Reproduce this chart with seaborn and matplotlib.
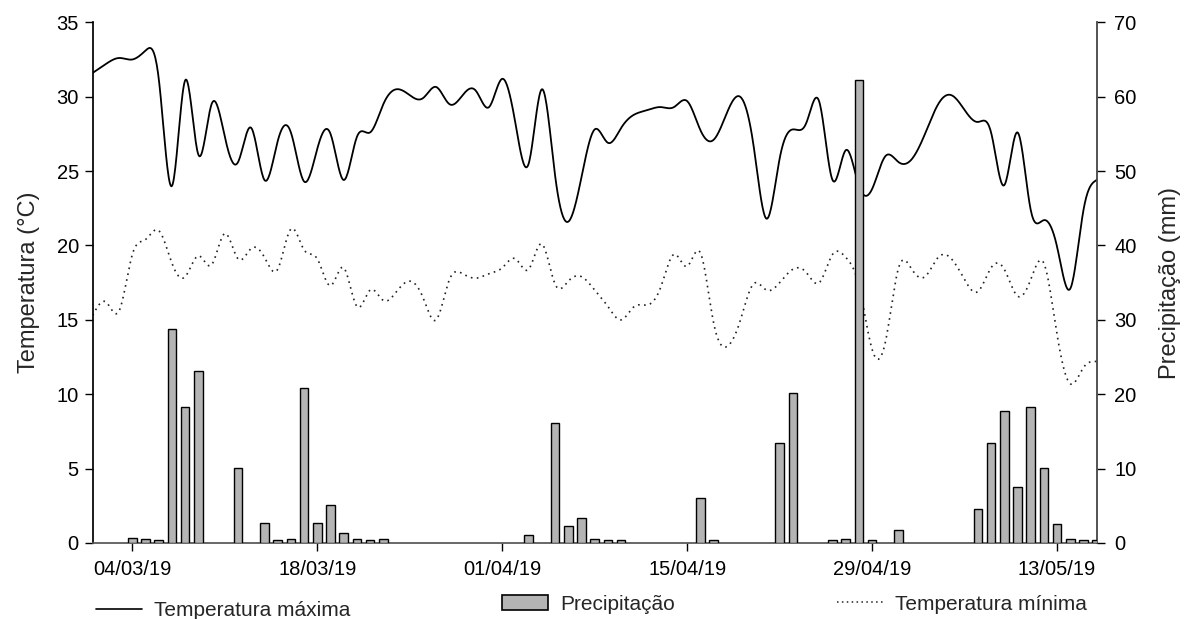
#!/usr/bin/env python3
"""
    Daily max/min temperature (left axis) and precipitation (right axis)
"""
import numpy as np
import pandas as pd
import matplotlib
matplotlib.use("Agg")
import matplotlib.pyplot as plt
import matplotlib.dates as mdates
import seaborn as sns

# --- data: 01/03/19 .. 16/05/19, one value per day ---
dates = pd.date_range("2019-03-01", "2019-05-16", freq="D")

tmax = [31.6, 32.2, 32.6, 32.5, 33.1, 31.2, 24.0, 31.1, 26.1, 29.5,
        27.3, 25.6, 27.9, 24.4, 27.0, 27.6, 24.3, 26.5, 27.5, 24.4,
        27.3, 27.6, 29.5, 30.5, 30.1, 29.9, 30.65, 29.5, 30.1, 30.4,
        29.3, 31.2, 28.2, 25.5, 30.5, 24.7, 21.6, 24.6, 27.8, 26.9,
        27.9, 28.8, 29.1, 29.3, 29.3, 29.7, 27.75, 27.1, 28.9, 30.0,
        26.85, 21.8, 25.85, 27.8, 28.2, 29.65, 24.4, 26.4, 24.0, 23.8,
        26.0, 25.6, 25.8, 27.5, 29.5, 30.1, 29.1, 28.3, 27.6, 24.05,
        27.6, 22.4, 21.7, 19.9, 17.1, 22.4, 24.4]

tmin = [15.3, 16.2, 15.6, 19.4, 20.4, 21.0, 18.8, 17.9, 19.3, 18.7,
        20.8, 19.1, 19.8, 19.2, 18.4, 21.1, 19.7, 19.1, 17.3, 18.5,
        15.9, 17.0, 16.3, 16.9, 17.6, 16.5, 15.0, 17.7, 18.1, 17.8,
        18.1, 18.5, 19.1, 18.4, 20.1, 17.4, 17.6, 17.9, 17.0, 15.9,
        15.0, 15.9, 16.0, 17.2, 19.4, 18.6, 19.5, 14.8, 13.2, 14.9,
        17.4, 17.0, 17.5, 18.4, 18.2, 17.5, 19.4, 19.2, 17.3, 13.0,
        13.5, 18.5, 18.4, 17.9, 19.2, 19.1, 17.7, 16.9, 18.5, 18.4,
        16.6, 17.7, 18.8, 14.0, 10.7, 11.8, 12.2]

precip = [0, 0, 0, 0.7, 0.55, 0.35, 28.8, 18.3, 23.1, 0,
          0, 10.1, 0, 2.7, 0.35, 0.6, 20.9, 2.7, 5.1, 1.3,
          0.55, 0.35, 0.55, 0, 0, 0, 0, 0, 0, 0,
          0, 0, 0, 1.1, 0, 16.1, 2.3, 3.3, 0.55, 0.35,
          0.35, 0, 0, 0, 0, 0, 6.1, 0.35, 0, 0,
          0, 0, 13.5, 20.1, 0, 0, 0.35, 0.55, 62.3, 0.35,
          0, 1.8, 0, 0, 0, 0, 0, 4.6, 13.4, 17.7,
          7.5, 18.3, 10.1, 2.5, 0.6, 0.35, 0.35]

tick_dates = ["2019-03-04", "2019-03-18", "2019-04-01",
              "2019-04-15", "2019-04-29", "2019-05-13"]
tick_labels = ["04/03/19", "18/03/19", "01/04/19",
               "15/04/19", "29/04/19", "13/05/19"]


def natural_spline(xk, yk, per=20):
    """natural cubic spline through the daily values (line rendering only)"""
    xk = np.asarray(xk, float)
    yk = np.asarray(yk, float)
    n = len(xk)
    h = np.diff(xk)
    A = np.zeros((n, n))
    b = np.zeros(n)
    A[0, 0] = A[-1, -1] = 1
    for i in range(1, n - 1):
        A[i, i - 1] = h[i - 1]
        A[i, i] = 2 * (h[i - 1] + h[i])
        A[i, i + 1] = h[i]
        b[i] = 6 * ((yk[i + 1] - yk[i]) / h[i] - (yk[i] - yk[i - 1]) / h[i - 1])
    M = np.linalg.solve(A, b)
    xs = np.linspace(xk[0], xk[-1], (n - 1) * per + 1)
    idx = np.clip(np.searchsorted(xk, xs) - 1, 0, n - 2)
    x0, x1 = xk[idx], xk[idx + 1]
    hh = x1 - x0
    t0, t1 = x1 - xs, xs - x0
    ys = (M[idx] * t0 ** 3 + M[idx + 1] * t1 ** 3) / (6 * hh) \
        + (yk[idx] / hh - M[idx] * hh / 6) * t0 \
        + (yk[idx + 1] / hh - M[idx + 1] * hh / 6) * t1
    return xs, ys


sns.set_theme(style="ticks")
plt.rcParams["font.family"] = ["Liberation Sans", "DejaVu Sans"]

xnum = mdates.date2num(dates)

fig = plt.figure(figsize=(11.84, 6.19), dpi=100)
ax = fig.add_axes([0.0783, 0.1228, 0.8480, 0.8412])
ax2 = ax.twinx()

# --- temperatures on left axis ---
xs, ys = natural_spline(xnum, tmax)
sns.lineplot(x=xs, y=ys, ax=ax, color="black", lw=1.3, sort=False)
xs, ys = natural_spline(xnum, tmin)
sns.lineplot(x=xs, y=ys, ax=ax, color="#222222", lw=1.2, sort=False,
             linestyle=(0, (1, 2.6)))

# --- precipitation bars on right axis ---
rain = np.array(precip)
mask = rain > 0
ax2.bar(xnum[mask], rain[mask], width=0.65, color="#b4b4b4",
        edgecolor="black", linewidth=1.0, zorder=3)

ax.set_xlim(xnum[0], xnum[-1])
ax.set_ylim(0, 35)
ax2.set_ylim(0, 70)
ax.set_yticks(range(0, 36, 5))
ax2.set_yticks(range(0, 71, 10))
ax.set_xticks(mdates.date2num(pd.to_datetime(tick_dates)))
ax.set_xticklabels(tick_labels)

ax.set_ylabel("Temperatura (°C)", fontsize=17, labelpad=12)
ax2.set_ylabel("Precipitação (mm)", fontsize=17, labelpad=16)

for a in (ax, ax2):
    a.spines["top"].set_visible(False)
    a.tick_params(labelsize=14.5, length=5.5, width=1.0, colors="black")
ax.tick_params(axis="y", pad=4.5)
ax2.tick_params(axis="y", pad=7)
ax.tick_params(axis="x", pad=6.5)
ax.spines["left"].set_color("black")
ax2.spines["right"].set_color("#444444")
ax2.spines["right"].set_linewidth(1.3)
ax.spines["bottom"].set_color("#555555")
ax2.spines["bottom"].set_visible(False)
ax2.spines["left"].set_visible(False)
ax.spines["right"].set_visible(False)

# --- legends along the bottom ---
h_max = plt.Line2D([], [], color="black", lw=1.2)
h_pre = plt.Rectangle((0, 0), 1, 1, facecolor="#b4b4b4", edgecolor="black", lw=1.2)
h_min = plt.Line2D([], [], color="#222222", lw=1.1, linestyle=(0, (1, 2.2)))
common = dict(loc="center left", frameon=False, fontsize=15, borderpad=0,
              borderaxespad=0, handlelength=2.2, handletextpad=0.6)
fig.legend([h_max], ["Temperatura máxima"], bbox_to_anchor=(0.081, 0.014), **common)
fig.legend([h_pre], ["Precipitação"], bbox_to_anchor=(0.424, 0.024),
           handleheight=0.8, **common)
fig.legend([h_min], ["Temperatura mínima"], bbox_to_anchor=(0.707, 0.024), **common)

fig.savefig("out.png", dpi=100)
